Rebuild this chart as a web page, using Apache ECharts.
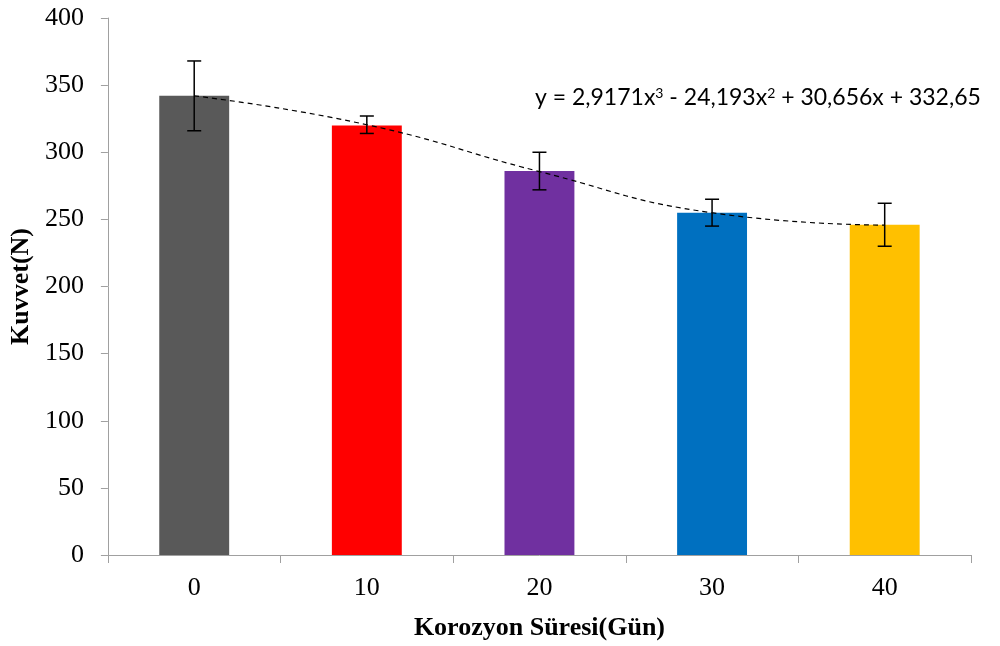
<!DOCTYPE html>
<html lang="tr">
<head>
    <meta charset="UTF-8">
    <title>Kuvvet - Korozyon Süresi</title>
    <style>
        html, body { margin: 0; padding: 0; background: #fff; }
        #main { width: 1000px; height: 646px; }
    </style>
</head>
<body>
<div id="main"></div>
<script src="https://cdn.jsdelivr.net/npm/echarts@6/dist/echarts.min.js"></script>
<script>
    // veriler
    var gunler = ['0', '10', '20', '30', '40'];
    var kuvvet = [342, 320, 286, 255, 246];
    var hataAlt = [316, 314, 272, 245, 230];
    var hataUst = [368, 327, 300, 265, 262];
    var trend = [342, 320.5, 285.6, 254.9, 245.7];
    var renkler = ['#595959', '#ff0000', '#7030a0', '#0070c0', '#ffc000'];
    var yTicks = [0, 50, 100, 150, 200, 250, 300, 350, 400];
    var denklem = 'y = 2,9171x{s|3} - 24,193x{s|2} + 30,656x + 332,65';

    var errData = [];
    for (var i = 0; i < gunler.length; i++) {
        errData.push([i, hataAlt[i], hataUst[i]]);
    }

    var myChart = echarts.init(document.getElementById('main'));
    var option = {
        animation: false,
        grid: { left: 107, right: 29, top: 18, bottom: 91 },
        xAxis: {
            type: 'category',
            data: gunler,
            name: 'Korozyon Süresi(Gün)',
            nameLocation: 'middle',
            nameGap: 60,
            nameTextStyle: { fontFamily: 'Liberation Serif', fontWeight: 'bold', fontSize: 26, color: '#000' },
            axisLine: { lineStyle: { color: '#a0a0a0', width: 1 } },
            axisTick: { show: true, length: 8, lineStyle: { color: '#a0a0a0' } },
            axisLabel: { fontFamily: 'Liberation Serif', fontSize: 26, color: '#000', margin: 20 }
        },
        yAxis: {
            type: 'value',
            min: yTicks[0],
            max: yTicks[yTicks.length - 1],
            interval: 50,
            name: 'Kuvvet(N)',
            nameLocation: 'middle',
            nameGap: 72,
            nameTextStyle: { fontFamily: 'Liberation Serif', fontWeight: 'bold', fontSize: 26, color: '#000' },
            axisLine: { show: true, lineStyle: { color: '#a0a0a0', width: 1 } },
            axisTick: { show: true, length: 7, lineStyle: { color: '#a0a0a0' } },
            axisLabel: { fontFamily: 'Liberation Serif', fontSize: 26, color: '#000', margin: 24 },
            splitLine: { show: false }
        },
        series: [
            {
                type: 'bar',
                barWidth: '40.5%',
                data: kuvvet.map(function (v, i) {
                    return { value: v, itemStyle: { color: renkler[i] } };
                }),
                z: 2
            },
            {
                // trend çizgisi
                type: 'line',
                data: trend,
                smooth: true,
                symbol: 'none',
                lineStyle: { color: '#000', width: 1.2, type: [5, 4] },
                z: 3
            },
            {
                // hata çubukları
                type: 'custom',
                data: errData,
                z: 4,
                renderItem: function (params, api) {
                    var x = api.value(0);
                    var alt = api.coord([x, api.value(1)]);
                    var ust = api.coord([x, api.value(2)]);
                    var w = 7;
                    var st = { stroke: '#000', lineWidth: 1.5 };
                    return {
                        type: 'group',
                        children: [
                            { type: 'line', shape: { x1: ust[0], y1: ust[1], x2: alt[0], y2: alt[1] }, style: st },
                            { type: 'line', shape: { x1: ust[0] - w, y1: ust[1], x2: ust[0] + w, y2: ust[1] }, style: st },
                            { type: 'line', shape: { x1: alt[0] - w, y1: alt[1], x2: alt[0] + w, y2: alt[1] }, style: st }
                        ]
                    };
                }
            }
        ],
        graphic: [
            {
                type: 'text',
                left: 535,
                top: 86,
                style: {
                    text: denklem,
                    fontFamily: 'Lato',
                    fontSize: 23,
                    fill: '#000',
                    rich: {
                        s: { fontSize: 14, verticalAlign: 'top', padding: [0, 0, 10, 0], fontFamily: 'Lato', fill: '#000' }
                    }
                }
            }
        ]
    };
    myChart.setOption(option);
</script>
</body>
</html>
